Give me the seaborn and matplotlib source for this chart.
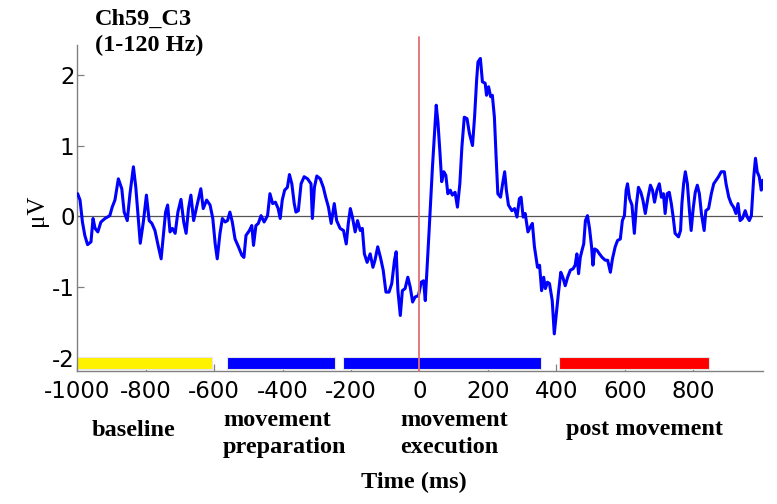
import numpy as np
import pandas as pd
import matplotlib
matplotlib.use("Agg")
import matplotlib.pyplot as plt
import seaborn as sns

# ERP trace (time in ms, amplitude in microvolts)
time_ms = [
    -999, -992, -985, -978, -970, -960, -954, -948, -940, -931, -919, -905, -898, -890, -880, -870,
    -863, -854, -846, -836, -829, -823, -816, -807, -798, -790, -782, -773, -763, -755, -749, -742,
    -736, -729, -722, -714, -706, -697, -689, -682, -675, -668, -660,
    -649, -639, -632, -622, -612, -604, -597, -591, -583, -576, -568, -561, -554, -547, -539, -529,
    -519, -513, -507, -497, -490, -485, -478, -471, -463, -454, -444, -437, -429, -421, -413, -407,
    -401, -394, -386, -380, -373, -366, -361, -354, -346, -337, -327,
    -317, -313, -307, -300, -290, -281, -274, -266, -258, -249, -242, -232, -222, -214, -208, -202,
    -196, -188, -181, -173, -167, -161, -153, -144, -136, -130, -122, -114, -106, -98, -89, -81,
    -73, -68, -63, -56, -50, -42, -34, -27, -20, -13, -3,
    5, 12, 17, 23, 28, 33, 38, 44, 49, 54, 60, 65, 71, 77, 83, 90,
    96, 104, 111, 118, 124, 131, 139, 146, 155, 161, 167, 171, 178, 184, 192, 196,
    202, 208, 213, 219, 224, 229, 237, 243, 249, 254, 260, 270, 278, 285, 292, 297,
    303, 309, 317, 324, 330, 336,
    345, 351, 357, 363, 368, 374, 380, 388, 394, 400, 406, 413, 419, 426, 433, 441,
    449, 455, 460, 465, 470, 475, 480, 485, 491, 497, 503, 507, 512, 519, 526, 534,
    543, 550, 558, 564, 572, 579, 587, 593, 599, 604, 608, 614, 621, 628, 634, 640,
    647, 653, 660,
    668, 675, 681, 687, 694, 701, 707, 713, 718, 724, 730, 736, 742, 747, 757, 763,
    767, 772, 777, 783, 789, 794, 800, 806, 812, 818, 824, 832, 837, 845, 853, 860,
    867, 874, 882, 891, 896, 904, 911, 918, 925, 931, 937, 944, 952, 958, 964, 970,
    977, 982, 987, 993, 999, 1003,
]
amp_uv = [
    0.32, 0.23, -0.08, -0.27, -0.40, -0.36, -0.03, -0.17, -0.22, -0.08, -0.03, 0.01, 0.13, 0.23, 0.53, 0.39,
    0.06, -0.06, 0.32, 0.70, 0.41, 0.04, -0.38, -0.08, 0.30, -0.06, -0.10, -0.20, -0.43, -0.60, -0.29, 0.06,
    0.16, -0.22, -0.17, -0.24, 0.06, 0.24, -0.08, -0.24, 0.11, 0.30, -0.06,
    0.18, 0.39, 0.11, 0.23, 0.16, -0.03, -0.39, -0.60, -0.24, -0.03, -0.08, -0.06, 0.06, -0.08, -0.32, -0.43,
    -0.55, -0.58, -0.27, -0.20, -0.13, -0.41, -0.13, -0.10, 0.01, -0.08, 0.01, 0.32, 0.18, 0.20, 0.11, -0.03,
    0.23, 0.37, 0.41, 0.59, 0.46, 0.18, 0.06, 0.08, 0.46, 0.56, 0.53,
    0.46, -0.03, 0.41, 0.57, 0.53, 0.41, 0.27, 0.13, -0.10, 0.18, -0.06, -0.17, -0.20, -0.39, -0.10, 0.11,
    -0.01, -0.22, -0.06, -0.20, -0.17, -0.53, -0.65, -0.53, -0.72, -0.62, -0.43, -0.58, -0.76, -1.07, -1.07, -0.95,
    -0.62, -0.50, -1.05, -1.40, -1.05, -1.02, -0.86, -1.00, -1.21, -1.14, -1.12,
    -0.93, -0.91, -1.19, -0.67, -0.22, 0.23, 0.70, 1.17, 1.57, 1.33, 0.89, 0.49, 0.63, 0.58, 0.32, 0.37,
    0.30, 0.34, 0.13, 0.46, 0.98, 1.40, 1.38, 1.17, 1.00, 1.40, 1.92, 2.18, 2.23, 1.90, 1.88, 1.71,
    1.83, 1.69, 1.71, 1.40, 0.84, 0.32, 0.27, 0.46, 0.63, 0.37, 0.16, 0.08, 0.11, -0.01, 0.25, 0.27,
    -0.01, 0.04, -0.22, -0.15, -0.10, -0.43,
    -0.72, -0.69, -1.05, -0.86, -1.02, -0.93, -0.95, -1.19, -1.66, -1.38, -1.09, -0.79, -0.86, -0.98, -0.86, -0.76,
    -0.74, -0.69, -0.53, -0.81, -0.58, -0.48, -0.39, -0.06, 0.01, -0.17, -0.43, -0.69, -0.46, -0.48, -0.53, -0.58,
    -0.62, -0.62, -0.79, -0.60, -0.43, -0.34, -0.32, -0.06, 0.01, 0.37, 0.46, 0.25, 0.16, -0.24, 0.16, 0.41,
    0.34, 0.23, 0.04,
    0.27, 0.44, 0.37, 0.20, 0.37, 0.46, 0.27, 0.32, 0.04, 0.32, 0.34, 0.18, -0.03, -0.24, -0.29, -0.20,
    0.18, 0.46, 0.63, 0.46, 0.08, -0.20, 0.11, 0.34, 0.44, 0.32, 0.04, -0.20, 0.08, 0.11, 0.32, 0.46,
    0.51, 0.56, 0.63, 0.63, 0.46, 0.27, 0.18, 0.13, 0.04, 0.18, -0.06, -0.03, 0.08, -0.01, -0.06, 0.01,
    0.56, 0.82, 0.63, 0.56, 0.37, 0.51,
]
assert len(time_ms) == len(amp_uv)

# movement phases shown as coloured bars under the trace
phase_labels = ["baseline", "movement\npreparation", "movement\nexecution", "post movement"]
phase_start = [-1000, -563, -224, 408]
phase_end = [-605, -247, 355, 845]
phase_colors = ["#fff200", "#0000ff", "#0000ff", "#ff0000"]

x_ticks = [-1000, -800, -600, -400, -200, 0, 200, 400, 600, 800]
y_ticks = [-2, -1, 0, 1, 2]

sns.set_style("ticks")
plt.rcParams["font.family"] = ["DejaVu Sans"]
plt.rcParams["axes.unicode_minus"] = False
plt.rcParams["text.color"] = "black"

W, H = 777, 504
fig = plt.figure(figsize=(W / 100, H / 100), dpi=100)
ax = fig.add_axes([77.3 / W, 1 - 370.7 / H, (763 - 77.3) / W, (370.7 - 45) / H])

df = pd.DataFrame({"t": time_ms, "uv": amp_uv})
sns.lineplot(data=df, x="t", y="uv", color="#0000ff", lw=2.2, estimator=None, ax=ax, zorder=3)

ax.axhline(0, color="#555555", lw=0.9, zorder=2)

# phase bars
ax.barh([-2.07] * 4, np.array(phase_end) - np.array(phase_start), left=phase_start,
        height=0.16, color=phase_colors, edgecolor="#e6e6e6", lw=0.8, zorder=2)

ax.set_xlim(-1000, 1004)
ax.set_ylim(-2.18, 2.42)
ax.axvline(0, ymin=0, ymax=1.026, color="#e07070", lw=1.3, clip_on=False, zorder=4)

ax.set_xticks(x_ticks)
ax.set_yticks(y_ticks)
ax.set_xticklabels([str(v) for v in x_ticks])
ax.set_yticklabels([str(v) for v in y_ticks])
ax.tick_params(axis="both", direction="in", length=5, width=0.9, color="#808080",
               labelsize=16.5, labelcolor="black")
ax.tick_params(axis="x", pad=7)
ax.tick_params(axis="y", pad=2)
ax.set_xlabel("")
ax.set_ylabel("")
sns.despine(ax=ax)
for s in ["left", "bottom"]:
    ax.spines[s].set_color("#808080")
    ax.spines[s].set_linewidth(1.0)

serif_bold = dict(family=["Liberation Serif", "DejaVu Serif"], weight="bold", fontsize=17.5, color="black")

fig.text(95 / W, 1 - 9 / H, "Ch59_C3\n(1-120 Hz)", ha="left", va="top", linespacing=1.3, **serif_bold)
fig.text(37 / W, 1 - 210 / H, "μV", rotation=90, ha="center", va="center",
         family=["Liberation Serif", "DejaVu Serif"], fontsize=18, color="black")

fig.text(134 / W, 1 - 430 / H, phase_labels[0], ha="center", va="center", **serif_bold)
fig.text(223 / W, 1 - 434 / H, phase_labels[1], ha="left", va="center", linespacing=1.4, **serif_bold)
fig.text(400 / W, 1 - 434 / H, phase_labels[2], ha="left", va="center", linespacing=1.4, **serif_bold)
fig.text(645 / W, 1 - 430 / H, phase_labels[3], ha="center", va="center", **serif_bold)
fig.text(414 / W, 1 - 482 / H, "Time (ms)", ha="center", va="center", **serif_bold)

fig.savefig("out.png", dpi=100)
